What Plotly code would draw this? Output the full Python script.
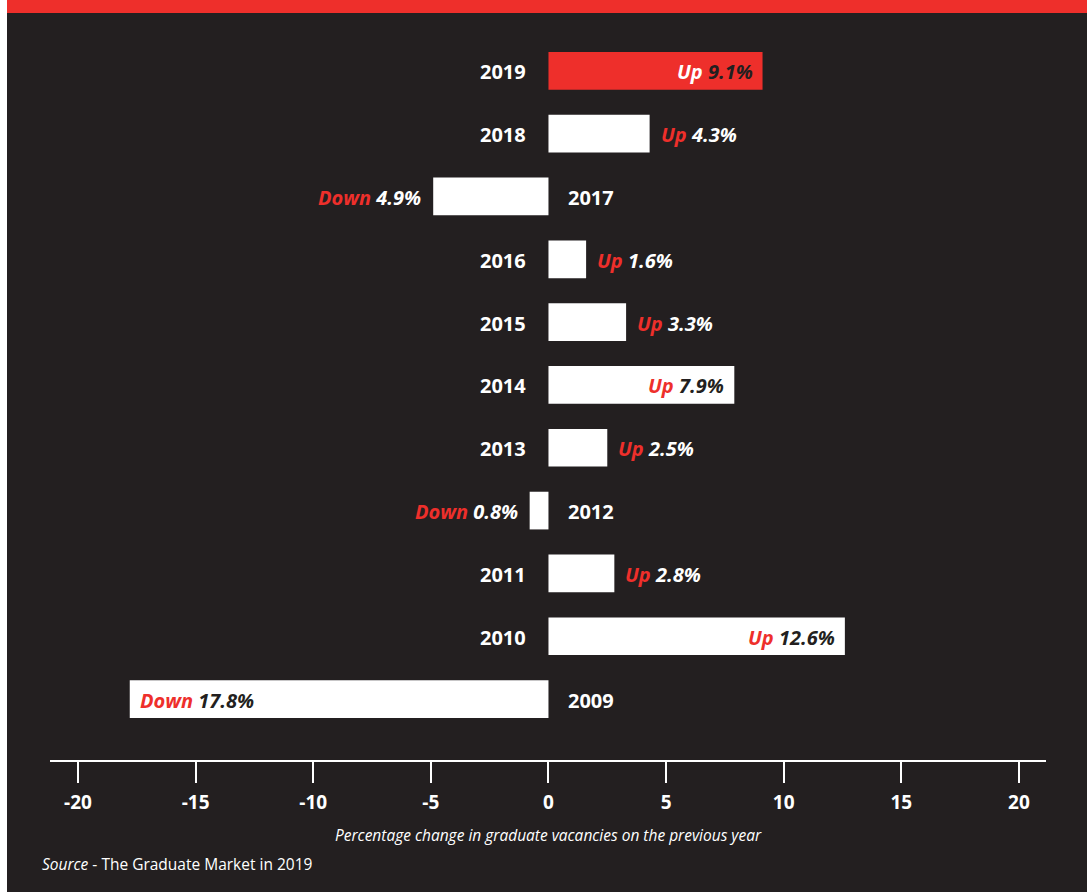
import plotly.graph_objects as go

# Annual change in graduate vacancies
years = [2019, 2018, 2017, 2016, 2015, 2014, 2013, 2012, 2011, 2010, 2009]
changes = [9.1, 4.3, -4.9, 1.6, 3.3, 7.9, 2.5, -0.8, 2.8, 12.6, -17.8]
highlight_year = 2019

x_ticks = [-20, -15, -10, -5, 0, 5, 10, 15, 20]
x_title = "Percentage change in graduate vacancies on the previous year"
source_note = "<i>Source</i> - The Graduate Market in 2019"

DARK = "#231f20"
RED = "#ee2f2b"
WHITE = "#ffffff"
FONT = "Open Sans"

bar_colors = [RED if y == highlight_year else WHITE for y in years]

fig = go.Figure(
    go.Bar(
        x=changes,
        y=years,
        orientation="h",
        width=0.6,
        marker=dict(color=bar_colors, line=dict(width=0)),
        hoverinfo="skip",
    )
)

annotations = []
for yr, v, col in zip(years, changes, bar_colors):
    up = v >= 0
    inside = abs(v) >= 7
    word = "Up" if up else "Down"
    # year label sits on the opposite side of zero from the bar
    annotations.append(dict(
        x=0, y=yr, xref="x", yref="y",
        text=f"<b>{yr}</b>",
        showarrow=False,
        xanchor="right" if up else "left",
        xshift=-20 if up else 18,
        yshift=-1,
        font=dict(family=FONT, size=20, color=WHITE),
    ))
    if inside:
        word_col = WHITE if col == RED else RED
        num_col = DARK
    else:
        word_col = RED
        num_col = WHITE
    label = (f"<i><b><span style='color:{word_col}'>{word}</span> "
             f"<span style='color:{num_col}'>{abs(v):.1f}%</span></b></i>")
    if up:
        xanchor = "right" if inside else "left"
        xshift = -8 if inside else 9
    else:
        xanchor = "left" if inside else "right"
        xshift = 8 if inside else -10
    annotations.append(dict(
        x=v, y=yr, xref="x", yref="y",
        text=label,
        showarrow=False,
        xanchor=xanchor,
        xshift=xshift,
        yshift=-1,
        font=dict(family=FONT, size=20, color=WHITE),
    ))

annotations.append(dict(
    x=0, y=-0.1004, xref="x", yref="paper",
    text=f"<i>{x_title}</i>", showarrow=False,
    xanchor="center", yanchor="middle",
    font=dict(family=FONT, size=15.5, color=WHITE),
))
annotations.append(dict(
    x=-0.01, y=-0.1392, xref="paper", yref="paper",
    text=source_note, showarrow=False,
    xanchor="left", yanchor="middle",
    font=dict(family=FONT, size=15.5, color=WHITE),
))

shapes = [
    # red banner along the top
    dict(type="rect", xref="paper", yref="paper",
         x0=-0.06, x1=1.06, y0=1.0, y1=1.03,
         fillcolor=RED, line=dict(width=0), layer="above"),
    # white page edge on the left
    dict(type="rect", xref="paper", yref="paper",
         x0=-0.06, x1=-0.04317, y0=-0.2, y1=1.03,
         fillcolor=WHITE, line=dict(width=0), layer="above"),
]

fig.update_layout(
    width=1087, height=892,
    margin=dict(l=50, r=41, t=13, b=132),
    paper_bgcolor=DARK, plot_bgcolor=DARK,
    showlegend=False,
    hovermode=False,
    annotations=annotations,
    shapes=shapes,
    xaxis=dict(
        range=[-21.19, 21.15],
        tickvals=x_ticks,
        ticktext=[f"<b>{t}</b>" for t in x_ticks],
        showgrid=False, zeroline=False,
        showline=True, linecolor=WHITE, linewidth=2,
        ticks="outside", ticklen=21, tickwidth=2, tickcolor=WHITE,
        ticklabelstandoff=3,
        tickfont=dict(family=FONT, size=19, color=WHITE),
        fixedrange=True,
    ),
    yaxis=dict(
        range=[2008.03, 2019.92],
        visible=False,
        fixedrange=True,
    ),
)

fig.write_html("out.html")
